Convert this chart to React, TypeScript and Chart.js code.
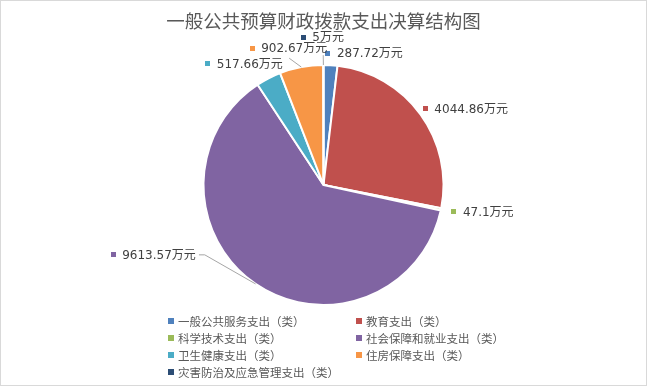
import React, { useEffect, useRef } from "react";
import { Chart, registerables } from "chart.js";

Chart.register(...registerables);

const TITLE = "一般公共预算财政拨款支出决算结构图";
const categories = [
  "一般公共服务支出（类）",
  "教育支出（类）",
  "科学技术支出（类）",
  "社会保障和就业支出（类）",
  "卫生健康支出（类）",
  "住房保障支出（类）",
  "灾害防治及应急管理支出（类）",
];
const values = [287.72, 4044.86, 47.1, 9613.57, 517.66, 902.67, 5];
const unit = "万元";
const colors = ["#4F81BD", "#C0504D", "#9BBB59", "#8064A2", "#4BACC6", "#F79646", "#2C4D75"];

// label placement style: nudges relative to the computed outside anchor
const labelNudge: [number, number][] = [
  [-3, -6],
  [0, -2],
  [7, 1],
  [-139, -34],
  [-58, -9],
  [-48, -13],
  [-20, -22],
];
const leaderType: (null | "side" | "below")[] = [null, null, null, "side", null, "below", "below"];

const LABEL_FONT = '12px "DejaVu Sans", "Noto Sans CJK SC", sans-serif';
const LEGEND_FONT = '11.5px "Noto Sans CJK SC", "DejaVu Sans", sans-serif';
const TITLE_FONT = '18.5px "Noto Sans CJK SC", sans-serif';

const decorPlugin = {
  id: "decor",
  beforeDraw(chart: any) {
    const ctx = chart.ctx;
    ctx.save();
    ctx.fillStyle = "#ffffff";
    ctx.fillRect(0, 0, chart.width, chart.height);
    ctx.strokeStyle = "#d9d9d9";
    ctx.lineWidth = 1;
    ctx.strokeRect(0.5, 0.5, chart.width - 1, chart.height - 1);
    ctx.restore();
  },
  afterDraw(chart: any) {
    const ctx = chart.ctx;
    ctx.save();
    // title
    ctx.fillStyle = "#595959";
    ctx.font = TITLE_FONT;
    ctx.textAlign = "center";
    ctx.textBaseline = "middle";
    ctx.fillText(TITLE, chart.width / 2, 21);

    // data labels
    const meta = chart.getDatasetMeta(0);
    ctx.font = LABEL_FONT;
    ctx.textAlign = "left";
    const boxes: any[] = [];
    meta.data.forEach((arc: any, i: number) => {
      const p = arc.getProps(["x", "y", "startAngle", "endAngle", "outerRadius"], true);
      const mid = (p.startAngle + p.endAngle) / 2;
      const ex = p.x + p.outerRadius * Math.cos(mid);
      const ey = p.y + p.outerRadius * Math.sin(mid);
      const mx = p.x + (p.outerRadius + 6) * Math.cos(mid) + labelNudge[i][0];
      const my = p.y + (p.outerRadius + 6) * Math.sin(mid) + labelNudge[i][1];
      const text = `${values[i]}${unit}`;
      const tw = ctx.measureText(text).width;
      boxes.push({ i, ex, ey, mx, my, text, left: mx - 4, right: mx + 10 + tw + 2, top: my - 8, bottom: my + 8 });
    });
    // leaders
    ctx.strokeStyle = "#a6a6a6";
    ctx.lineWidth = 1;
    boxes.forEach((b) => {
      const t = leaderType[b.i];
      if (!t) return;
      ctx.beginPath();
      if (t === "side") {
        const sx = b.ex > b.right ? b.right : b.left;
        const dir = b.ex > b.right ? 1 : -1;
        ctx.moveTo(sx, b.my);
        ctx.lineTo(sx + dir * 6, b.my);
        ctx.lineTo(b.ex, b.ey);
      } else {
        const cx = (b.left + b.right) / 2;
        ctx.moveTo(cx, b.bottom + 2);
        ctx.lineTo(b.ex, b.ey);
      }
      ctx.stroke();
    });
    // label backgrounds + text
    boxes.forEach((b) => {
      ctx.fillStyle = "#ffffff";
      ctx.fillRect(b.left, b.top + 1, b.right - b.left, b.bottom - b.top - 2);
    });
    boxes.forEach((b) => {
      ctx.fillStyle = colors[b.i];
      ctx.fillRect(Math.round(b.mx - 2.5), Math.round(b.my - 2.5), 5, 5);
      ctx.fillStyle = "#404040";
      ctx.textBaseline = "middle";
      ctx.fillText(b.text, b.mx + 9, b.my + 1);
    });

    // legend (two columns)
    ctx.font = LEGEND_FONT;
    ctx.textBaseline = "middle";
    const colX = [168, 356];
    const rowY0 = 321;
    const rowH = 17;
    categories.forEach((c, i) => {
      const col = i % 2;
      const row = Math.floor(i / 2);
      const x = colX[col];
      const y = rowY0 + row * rowH;
      ctx.fillStyle = colors[i];
      ctx.fillRect(x, y - 3, 6, 6);
      ctx.fillStyle = "#595959";
      ctx.fillText(c, x + 10, y + 1);
    });
    ctx.restore();
  },
};

export default function App() {
  const ref = useRef<HTMLCanvasElement | null>(null);
  useEffect(() => {
    document.body.style.margin = "0";
    const canvas = ref.current;
    if (!canvas) return;
    const chart = new Chart(canvas, {
      type: "pie",
      data: {
        labels: categories,
        datasets: [
          {
            data: values,
            backgroundColor: colors,
            borderColor: "#ffffff",
            borderWidth: 2,
          },
        ],
      },
      options: {
        responsive: false,
        animation: false,
        devicePixelRatio: 1,
        events: [],
        layout: { padding: { top: 64, bottom: 80, left: 0, right: 0 } },
        plugins: {
          legend: { display: false },
          title: { display: false },
          tooltip: { enabled: false },
        },
      },
      plugins: [decorPlugin],
    });
    return () => chart.destroy();
  }, []);
  return (
    <div style={{ position: "absolute", left: 0, top: 0, width: 647, height: 386 }}>
      <canvas ref={ref} width={647} height={386} style={{ width: 647, height: 386, display: "block" }} />
    </div>
  );
}
